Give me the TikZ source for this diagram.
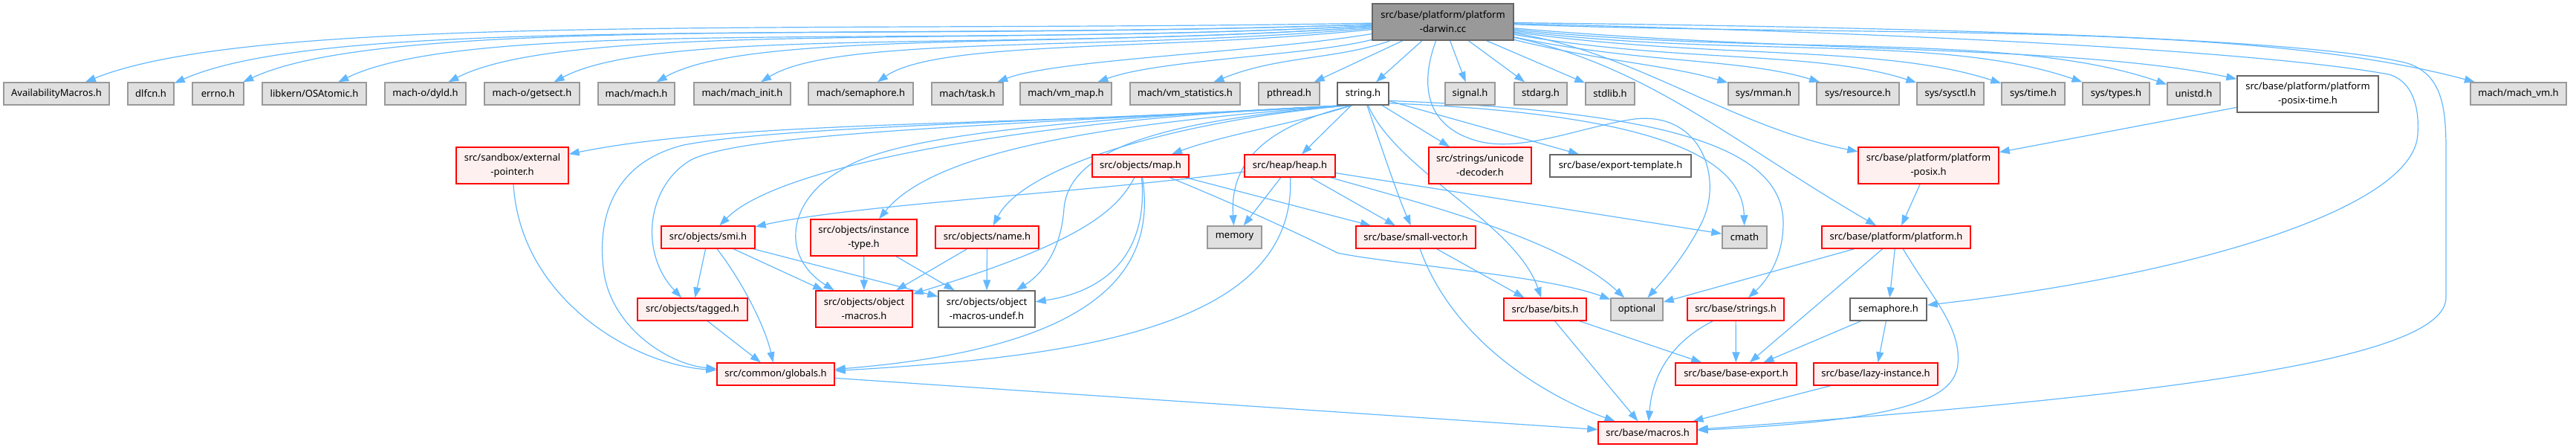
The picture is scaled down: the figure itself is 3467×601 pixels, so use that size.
\documentclass[tikz,border=0pt]{standalone}
\usepackage{fontspec}
\setmainfont{Noto Sans}
\usetikzlibrary{arrows.meta,backgrounds}
\definecolor{incblue}{RGB}{99,184,255}
\definecolor{sysfill}{RGB}{224,224,224}
\definecolor{sysline}{RGB}{153,153,153}
\definecolor{locfill}{RGB}{255,240,240}
\definecolor{locline}{RGB}{255,0,0}
\definecolor{plainline}{RGB}{102,102,102}
\definecolor{rootfill}{RGB}{153,153,153}
\tikzset{
  hbox/.style={rectangle, line width=1.4pt, inner sep=0pt, align=center,
               font=\fontsize{13}{19}\selectfont, minimum height=30pt},
  sysbox/.style={hbox, fill=sysfill, draw=sysline},
  locbox/.style={hbox, fill=locfill, draw=locline},
  plainbox/.style={hbox, fill=white, draw=plainline},
  rootbox/.style={hbox, fill=rootfill, draw=plainline},
  twoline/.style={minimum height=49pt},
  incarr/.style={-{Triangle[length=14pt,width=10pt]}, line width=1.2pt, incblue},
}

\begin{document}
\begin{tikzpicture}[x=1pt,y=-1pt]
        \useasboundingbox (0,0) rectangle (3467,601);
        \node[rootbox, twoline, minimum width=190pt](darwin) at (1942,29.5){src/base/platform/platform\\-darwin.cc};
        % row of direct includes
        \node[sysbox, minimum width=142pt](avail) at (76,126){AvailabilityMacros.h};
        \node[sysbox, minimum width=62pt](dlfcn) at (203,126){dlfcn.h};
        \node[sysbox, minimum width=69pt](errno) at (293.5,126){errno.h};
        \node[sysbox, minimum width=140pt](osatomic) at (423,126){libkern/OSAtomic.h};
        \node[sysbox, minimum width=109pt](dyld) at (572.5,126){mach-o/dyld.h};
        \node[sysbox, minimum width=128pt](getsect) at (716,126){mach-o/getsect.h};
        \node[sysbox, minimum width=103pt](machh) at (856.5,126){mach/mach.h};
        \node[sysbox, minimum width=130pt](machinit) at (999,126){mach/mach\_init.h};
        \node[sysbox, minimum width=141pt](machsem) at (1158.5,126){mach/semaphore.h};
        \node[sysbox, minimum width=96pt](task) at (1302,126){mach/task.h};
        \node[sysbox, minimum width=123pt](vmmap) at (1434.5,126){mach/vm\_map.h};
        \node[sysbox, minimum width=148pt](vmstat) at (1595,126){mach/vm\_statistics.h};
        \node[sysbox, minimum width=82pt](pthread) at (1735,126){pthread.h};
        \node[plainbox, minimum width=69pt](stringh) at (1834.5,126){string.h};
        \node[sysbox, minimum width=67pt](signal) at (1978.5,126){signal.h};
        \node[sysbox, minimum width=71pt](stdarg) at (2073.5,126){stdarg.h};
        \node[sysbox, minimum width=66pt](stdlib) at (2167,126){stdlib.h};
        \node[sysbox, minimum width=95pt](mman) at (2373.5,126){sys/mman.h};
        \node[sysbox, minimum width=111pt](resource) at (2500.5,126){sys/resource.h};
        \node[sysbox, minimum width=90pt](sysctl) at (2625,126){sys/sysctl.h};
        \node[sysbox, minimum width=85pt](systime) at (2736.5,126){sys/time.h};
        \node[sysbox, minimum width=90pt](systypes) at (2848,126){sys/types.h};
        \node[sysbox, minimum width=71pt](unistd) at (2952.5,126){unistd.h};
        \node[plainbox, twoline, minimum width=190pt](posixtime) at (3106,126.5){src/base/platform/platform\\-posix-time.h};
        \node[sysbox, minimum width=129pt](machvm) at (3389.5,126){mach/mach\_vm.h};
        % lower rows
        \node[locbox, twoline, minimum width=151pt](extptr) at (689.5,222.5){src/sandbox/external\\-pointer.h};
        \node[locbox, minimum width=130pt](maph) at (1535,223){src/objects/map.h};
        \node[locbox, minimum width=122pt](heaph) at (1736,223){src/heap/heap.h};
        \node[locbox, twoline, minimum width=138pt](unidec) at (1992,222.5){src/strings/unicode\\-decoder.h};
        \node[plainbox, minimum width=190pt](exptpl) at (2181,223){src/base/export-template.h};
        \node[locbox, twoline, minimum width=189pt](posixh) at (2595.5,222.5){src/base/platform/platform\\-posix.h};
        \node[locbox, minimum width=126pt](smih) at (953,319){src/objects/smi.h};
        \node[locbox, twoline, minimum width=143pt](insttype) at (1162.5,319.5){src/objects/instance\\-type.h};
        \node[locbox, minimum width=139pt](nameh) at (1328.5,319){src/objects/name.h};
        \node[sysbox, minimum width=73pt](memory) at (1661.5,319){memory};
        \node[locbox, minimum width=161pt](smallvec) at (1905.5,319){src/base/small-vector.h};
        \node[sysbox, minimum width=60pt](cmath) at (2348,319){cmath};
        \node[locbox, minimum width=200pt](platformh) at (2552,319){src/base/platform/platform.h};
        \node[locbox, minimum width=148pt](tagged) at (932,416){src/objects/tagged.h};
        \node[locbox, twoline, minimum width=130pt](objmac) at (1163,415.5){src/objects/object\\-macros.h};
        \node[plainbox, twoline, minimum width=130pt](objundef) at (1328,415.5){src/objects/object\\-macros-undef.h};
        \node[locbox, minimum width=111pt](bitsh) at (2079.5,416){src/base/bits.h};
        \node[sysbox, minimum width=70pt](optional) at (2203,416){optional};
        \node[locbox, minimum width=130pt](stringsh) at (2336,416){src/base/strings.h};
        \node[plainbox, minimum width=103pt](semah) at (2541.5,416){semaphore.h};
        \node[locbox, minimum width=158pt](globals) at (1044,503){src/common/globals.h};
        \node[locbox, minimum width=163pt](baseexp) at (2336.5,503){src/base/base-export.h};
        \node[locbox, minimum width=167pt](lazy) at (2524.5,503){src/base/lazy-instance.h};
        \node[locbox, minimum width=133pt](macros) at (2217.5,582){src/base/macros.h};

        \begin{scope}[on background layer]
        % from platform-darwin.cc
        \foreach \dst/\oa/\ia/\od/\id in {avail/181/22/750/250, dlfcn/182/24/700/230, errno/182/25/650/215,
            osatomic/183/26/600/200, dyld/183/27/540/180, getsect/184/28/480/160, machh/184/30/420/140,
            machinit/185/32/360/120, machsem/186/35/280/100}
          \draw[incarr](darwin.\oa) .. controls +(\oa:\od pt) and +(\ia:\id pt) .. (\dst.\ia);
        \draw[incarr](darwin) .. controls (1700,70) and (1420,80) .. (task);
        \draw[incarr](darwin) .. controls (1760,75) and (1560,80) .. (vmmap);
        \draw[incarr](darwin) .. controls (1800,80) and (1720,75) .. (vmstat);
        \draw[incarr](darwin)--(pthread);
        \draw[incarr](darwin)--(stringh);
        \draw[incarr](darwin)--(signal);
        \draw[incarr](darwin)--(stdarg);
        \draw[incarr](darwin)--(stdlib);
        \foreach \dst/\oa/\ia/\od/\id in {mman/-14/163/120/80, resource/-12/163/170/110, sysctl/-10/162/220/140,
            systime/-8/162/270/170, systypes/-7/161/310/200, unistd/-6/161/350/220,
            posixtime/-5/168/380/220, machvm/-2/165/500/320}
          \draw[incarr](darwin.\oa) .. controls +(\oa:\od pt) and +(\ia:\id pt) .. (\dst.\ia);
        \draw[incarr](darwin) .. controls (2200,70) and (2330,170) .. (posixh);
        \draw[incarr](darwin) .. controls (2220,90) and (2330,190) .. (platformh);
        \draw[incarr](darwin) .. controls (1912,110) and (1915,170) .. (1990,190)
            .. controls (2050,205) and (2130,170) .. (2200,160)
            .. controls (2290,150) and (2320,240) .. (2290,300)
            .. controls (2270,340) and (2245,370) .. (optional);
        \draw[incarr](darwin) .. controls (2600,45) and (3050,70) .. (3215,100)
            .. controls (3250,110) and (3256,150) .. (3254,180)
            .. controls (3250,280) and (2950,370) .. (semah);
        \draw[incarr](darwin) .. controls (2700,38) and (3120,55) .. (3240,85)
            .. controls (3285,100) and (3292,140) .. (3292,200) -- (3292,400)
            .. controls (3292,480) and (2950,530) .. (macros);
        % from string.h
        \draw[incarr](stringh.-150) .. controls (1400,170) and (1000,160) .. (extptr);
        \draw[incarr](stringh.-148) .. controls (1400,165) and (1050,170) .. (920,195)
            .. controls (820,220) and (805,300) .. (812,360)
            .. controls (820,440) and (900,490) .. (globals);
        \draw[incarr](stringh.-147) .. controls (1300,170) and (1000,180) .. (930,215)
            .. controls (870,250) and (860,340) .. (tagged);
        \draw[incarr](stringh.-146) .. controls (1400,160) and (1050,220) .. (smih);
        \draw[incarr](stringh.-144) .. controls (1500,165) and (1260,200) .. (insttype);
        \draw[incarr](stringh.-143) .. controls (1450,160) and (1200,180) .. (1130,230)
            .. controls (1060,270) and (1050,345) .. (objmac);
        \draw[incarr](stringh.-140) .. controls (1600,160) and (1440,190) .. (1432,280)
            .. controls (1428,340) and (1400,370) .. (objundef);
        \draw[incarr](stringh.-138) .. controls (1600,160) and (1380,220) .. (nameh);
        \draw[incarr](stringh.-135) .. controls (1750,165) and (1650,180) .. (maph);
        \draw[incarr](stringh)--(heaph);
        \draw[incarr](stringh.-132) .. controls (1700,170) and (1655,220) .. (memory);
        \draw[incarr](stringh) .. controls (1860,200) and (1880,260) .. (smallvec);
        \draw[incarr](stringh) .. controls (1880,230) and (2040,300) .. (bitsh);
        \draw[incarr](stringh)--(unidec);
        \draw[incarr](stringh)--(exptpl);
        \draw[incarr](stringh.-20) .. controls (2150,150) and (2345,190) .. (cmath);
        \draw[incarr](stringh.-15) .. controls (2250,150) and (2400,200) .. (2400,300)
            .. controls (2400,350) and (2375,380) .. (stringsh);
        % from heap.h and map.h
        \draw[incarr](heaph) .. controls (1450,260) and (1150,275) .. (smih);
        \draw[incarr](heaph)--(memory);
        \draw[incarr](heaph) .. controls (1745,440) and (1450,480) .. (globals);
        \draw[incarr](heaph)--(smallvec);
        \draw[incarr](heaph) .. controls (1900,270) and (2100,320) .. (optional);
        \draw[incarr](heaph)--(cmath);
        \draw[incarr](maph) .. controls (1500,290) and (1440,330) .. (objmac);
        \draw[incarr](maph) .. controls (1545,330) and (1500,390) .. (objundef);
        \draw[incarr](maph) .. controls (1560,380) and (1450,470) .. (globals);
        \draw[incarr](maph)--(smallvec);
        \draw[incarr](maph) .. controls (1640,265) and (1740,310) .. (1800,340)
            .. controls (1870,355) and (2080,370) .. (optional);
        % objects
        \draw[incarr](smih)--(tagged);
        \draw[incarr](smih) .. controls (1000,380) and (1030,440) .. (globals);
        \draw[incarr](smih)--(objmac);
        \draw[incarr](smih)--(objundef);
        \draw[incarr](insttype)--(objmac);
        \draw[incarr](insttype)--(objundef);
        \draw[incarr](nameh)--(objmac);
        \draw[incarr](nameh)--(objundef);
        \draw[incarr](tagged)--(globals);
        \draw[incarr](extptr) .. controls (700,400) and (850,490) .. (globals);
        \draw[incarr](globals)--(macros);
        % base
        \draw[incarr](smallvec)--(bitsh);
        \draw[incarr](smallvec) .. controls (1960,470) and (2100,540) .. (macros);
        \draw[incarr](bitsh)--(macros);
        \draw[incarr](bitsh)--(baseexp);
        \draw[incarr](stringsh)--(baseexp);
        \draw[incarr](stringsh) .. controls (2230,470) and (2222,530) .. (macros);
        \draw[incarr](posixtime)--(posixh);
        \draw[incarr](posixh)--(platformh);
        \draw[incarr](platformh)--(optional);
        \draw[incarr](platformh)--(baseexp);
        \draw[incarr](platformh)--(semah);
        \draw[incarr](platformh) .. controls (2600,400) and (2640,440) .. (2635,490)
            .. controls (2630,540) and (2550,565) .. (macros);
        \draw[incarr](semah)--(baseexp);
        \draw[incarr](semah)--(lazy);
        \draw[incarr](lazy)--(macros);
        \end{scope}
    \end{tikzpicture}
\end{document}
